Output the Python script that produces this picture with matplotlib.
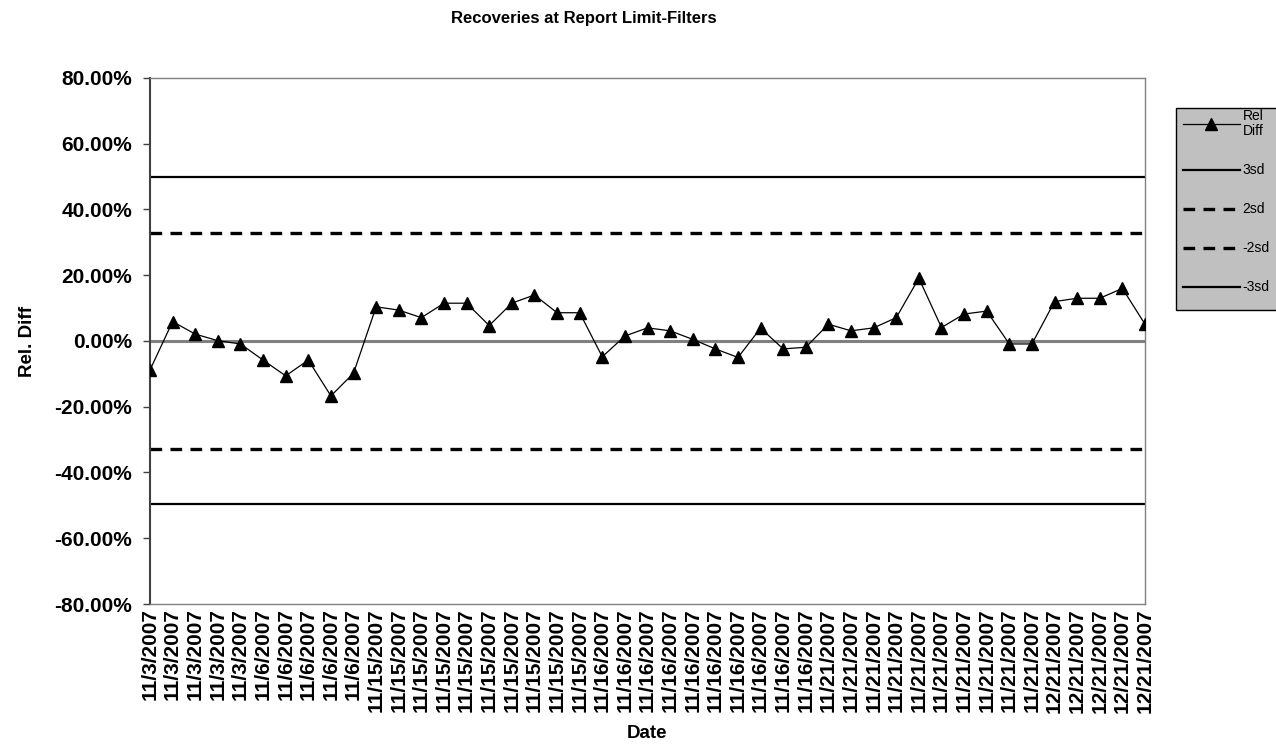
import matplotlib
matplotlib.use("Agg")
import matplotlib.pyplot as plt
from matplotlib.patches import Rectangle
from matplotlib.ticker import FixedLocator, FuncFormatter

plt.rcParams["font.family"] = ["Liberation Sans", "DejaVu Sans"]

# ---- data ----
dates = (
    ["11/3/2007"] * 5
    + ["11/6/2007"] * 5
    + ["11/15/2007"] * 10
    + ["11/16/2007"] * 10
    + ["11/21/2007"] * 10
    + ["12/21/2007"] * 5
)
rel_diff = [
    -8.8, 5.9, 2.1, 0.1, -0.9, -5.8, -10.6, -5.8, -16.7, -9.8,
    10.4, 9.4, 7.1, 11.5, 11.5, 4.7, 11.5, 14.0, 8.6, 8.6,
    -4.8, 1.5, 4.0, 3.1, 0.5, -2.4, -5.0, 3.9, -2.4, -1.9,
    5.1, 3.1, 4.0, 7.1, 19.1, 4.1, 8.2, 9.1, -0.9, -0.9,
    12.0, 13.0, 13.0, 16.0, 5.1,
]
limit_labels = ["3sd", "2sd", "-2sd", "-3sd"]
limit_values = [49.8, 32.9, -32.8, -49.6]
limit_styles = ["solid", "dashed", "dashed", "solid"]
y_ticks = [80, 60, 40, 20, 0, -20, -40, -60, -80]

W, H = 1276, 744
fig = plt.figure(figsize=(W / 100, H / 100), dpi=100)
ax = fig.add_axes([150 / W, 1 - 604 / H, (1145 - 150) / W, (604 - 78) / H])

x = list(range(len(rel_diff)))

ax.axhline(0, color="#808080", lw=2.2, zorder=1)
for lab, val, sty in zip(limit_labels, limit_values, limit_styles):
    if sty == "solid":
        ax.axhline(val, color="black", lw=1.6, zorder=2, label=lab)
    else:
        ax.axhline(val, color="black", lw=2.4, zorder=2, label=lab,
                   linestyle=(0, (3.5, 2.5)))
ax.plot(x, rel_diff, color="black", lw=0.9, marker="^", ms=8.5, zorder=3,
        label="Rel\nDiff")

ax.set_xlim(0, len(rel_diff) - 1)
ax.set_ylim(-80, 80)
ax.yaxis.set_major_locator(FixedLocator(y_ticks))
ax.yaxis.set_major_formatter(FuncFormatter(lambda v, p: f"{v:.2f}%"))
ax.set_xticks(x)
ax.set_xticklabels(dates, rotation=90, fontsize=15, fontweight="bold")
ax.tick_params(axis="x", length=0, pad=3)
ax.tick_params(axis="y", direction="out", length=5, width=1, color="#404040",
               labelsize=15, pad=8)
for t in ax.get_yticklabels():
    t.set_fontweight("bold")

ax.spines["left"].set_color("#404040")
ax.spines["left"].set_linewidth(1.5)
for s in ("top", "right", "bottom"):
    ax.spines[s].set_color("#808080")
    ax.spines[s].set_linewidth(1.0)

fig.text(584 / W, 1 - 19 / H, "Recoveries at Report Limit-Filters",
         ha="center", va="center", fontsize=12, fontweight="bold")
fig.text(28 / W, 1 - 341 / H, "Rel. Diff", rotation=90, ha="center",
         va="center", fontsize=13.5, fontweight="bold")
fig.text(647 / W, 1 - 733 / H, "Date", ha="center", va="center",
         fontsize=13.5, fontweight="bold")

# legend box (grey, runs off the right edge like the original)
fig.patches.append(Rectangle((1176 / W, 1 - 310 / H), (1300 - 1176) / W,
                             (310 - 108) / H, transform=fig.transFigure,
                             facecolor="#c0c0c0", edgecolor="black", lw=1.0,
                             zorder=-1))

handles, labels = ax.get_legend_handles_labels()
order = [labels.index("Rel\nDiff")] + [labels.index(l) for l in limit_labels]
leg = ax.legend([handles[i] for i in order], [labels[i] for i in order],
                loc="upper left", bbox_to_anchor=(1180 / W, 1 - 106 / H),
                bbox_transform=fig.transFigure, fontsize=10, frameon=False,
                handlelength=4.1, handletextpad=0.2,
                borderpad=0.2, labelspacing=1.8, borderaxespad=0)
leg.get_texts()[0].set_linespacing(1.15)

fig.savefig("out.png", dpi=100)
